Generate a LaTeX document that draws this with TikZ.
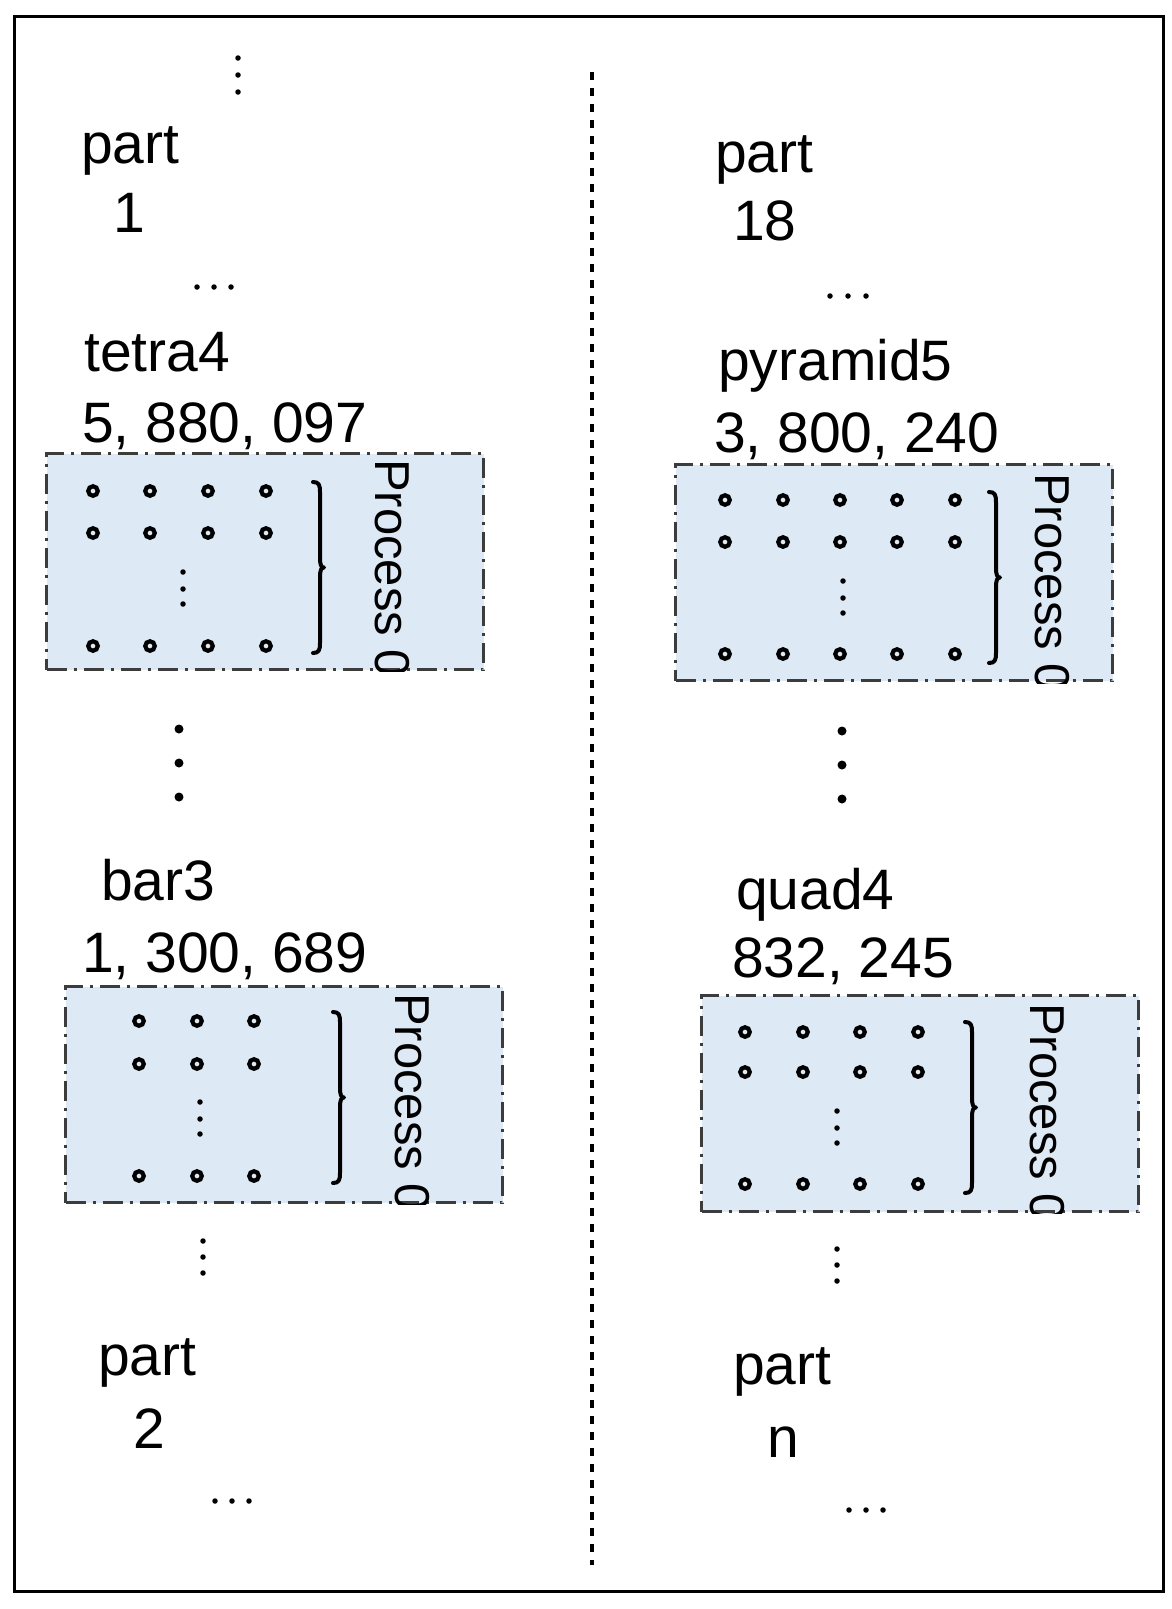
\documentclass[tikz,border=0pt]{standalone}
\usepackage{fontspec}
\setmainfont{Liberation Sans}
\definecolor{boxblue}{RGB}{222,233,246}
\definecolor{boxedge}{RGB}{60,60,60}
\newcommand\mybrace[3]{%
  \draw[brc] ({#1-7},#2) .. controls ({#1-1},#2) and (#1,{#2+3}) .. (#1,{#2+10})
    -- (#1,{(#2+#3)/2-10}) .. controls (#1,{(#2+#3)/2-3}) and ({#1+1},{(#2+#3)/2}) .. ({#1+4},{(#2+#3)/2})
    .. controls ({#1+1},{(#2+#3)/2}) and (#1,{(#2+#3)/2+3}) .. (#1,{(#2+#3)/2+10})
    -- (#1,{#3-10}) .. controls (#1,{#3-3}) and ({#1-1},#3) .. ({#1-7},#3);}
\begin{document}
\begin{tikzpicture}[x=1pt,y=-1pt,
  txt/.style={font=\fontsize{57}{60}\selectfont, inner sep=0pt, anchor=base west},
  proc/.style={font=\fontsize{49}{52}\selectfont, inner sep=0pt, anchor=base west, rotate=-90},
  pbox/.style={draw=boxedge, fill=boxblue, line width=3.4pt,
    dash pattern=on 20pt off 7pt on 3pt off 7pt, anchor=north west,
    minimum width=437pt, minimum height=216pt, inner sep=0pt},
  ring/.style={circle, draw, line width=4.2pt, minimum size=9.5pt, inner sep=0pt},
  sdot/.style={circle, fill, inner sep=0pt, minimum size=5.5pt},
  bdot/.style={circle, fill, inner sep=0pt, minimum size=9pt},
  brc/.style={line width=4pt, line cap=round, line join=round}]

\useasboundingbox (0,0) rectangle (1171,1609);
\fill[white] (0,0) rectangle (1171,1609);
\node[draw, line width=3.4pt, minimum width=1149pt, minimum height=1575pt,
  anchor=north west, inner sep=0pt] (frame) at (13,15) {};

% divider
\coordinate (dtop) at (592,72);
\coordinate (dbot) at (592,1565);
\draw[line width=4pt, dash pattern=on 8pt off 8pt] (dtop) -- (dbot);

% ---------- left column ----------
\foreach \yy [count=\k] in {58,75,92} \node[sdot] (ltv\k) at (238,\yy) {};
\node[txt] (lpart1) at (81,163) {part};
\node[txt] (lone) at (113,232) {1};
\foreach \xx [count=\k] in {197,214,231} \node[sdot] (lel1\k) at (\xx,287) {};
\node[txt] (tetra) at (84,371) {tetra4};
\node[txt] (tetran) at (82,442) {5, 880, 097};

\begin{scope}[shift={(45,452)}]
  \node[pbox] (box1) at (0,0) {};
  \foreach \dy [count=\r] in {39,81,194}
    \foreach \dx [count=\c] in {48,105,163,221}
      \node[ring] (b1r\r c\c) at (\dx,\dy) {};
  \foreach \dy [count=\k] in {120,137,152} \node[sdot] (b1v\k) at (138,\dy) {};
  \mybrace{275}{30}{201}
  \begin{scope}
    \clip (0,0) rectangle (437,219);
    \node[proc] (p1) at (330,7) {Process 0};
  \end{scope}
\end{scope}

\foreach \yy [count=\k] in {729,763,797} \node[bdot] (lbd\k) at (179,\yy) {};
\node[txt] (bar) at (101,900) {bar3};
\node[txt] (barn) at (82,972) {1, 300, 689};

\begin{scope}[shift={(64,985)}]
  \node[pbox] (box2) at (0,0) {};
  \foreach \dy [count=\r] in {36,79,191}
    \foreach \dx [count=\c] in {75,133,190}
      \node[ring] (b2r\r c\c) at (\dx,\dy) {};
  \foreach \dy [count=\k] in {117,134,149} \node[sdot] (b2v\k) at (136,\dy) {};
  \mybrace{276}{27}{198}
  \begin{scope}
    \clip (0,0) rectangle (437,219);
    \node[proc] (p2) at (331,8) {Process 0};
  \end{scope}
\end{scope}

\foreach \yy [count=\k] in {1241,1257,1273} \node[sdot] (lbv\k) at (203,\yy) {};
\node[txt] (lpart2) at (98,1375) {part};
\node[txt] (ltwo) at (133,1448) {2};
\foreach \xx [count=\k] in {215,232,249} \node[sdot] (lel2\k) at (\xx,1501) {};

% ---------- right column ----------
\node[txt] (rpart1) at (715,172) {part};
\node[txt] (reight) at (733,240) {18};
\foreach \xx [count=\k] in {830,848,866} \node[sdot] (rel1\k) at (\xx,296) {};
\node[txt] (pyr) at (718,380) {pyramid5};
\node[txt] (pyrn) at (714,452) {3, 800, 240};

\begin{scope}[shift={(674,463)}]
  \node[pbox] (box3) at (0,0) {};
  \foreach \dy [count=\r] in {37,79,191}
    \foreach \dx [count=\c] in {51,109,166,223,281}
      \node[ring] (b3r\r c\c) at (\dx,\dy) {};
  \foreach \dy [count=\k] in {118,135,150} \node[sdot] (b3v\k) at (169,\dy) {};
  \mybrace{322}{29}{200}
  \begin{scope}
    \clip (0,0) rectangle (437,220);
    \node[proc] (p3) at (361,10) {Process 0};
  \end{scope}
\end{scope}

\foreach \yy [count=\k] in {731,765,799} \node[bdot] (rbd\k) at (842,\yy) {};
\node[txt] (quad) at (736,909) {quad4};
\node[txt] (quadn) at (732,977) {832, 245};

\begin{scope}[shift={(700,994)}]
  \node[pbox] (box4) at (0,0) {};
  \foreach \dy [count=\r] in {38,78,190}
    \foreach \dx [count=\c] in {45,103,160,218}
      \node[ring] (b4r\r c\c) at (\dx,\dy) {};
  \foreach \dy [count=\k] in {117,134,149} \node[sdot] (b4v\k) at (137,\dy) {};
  \mybrace{272}{28}{199}
  \begin{scope}
    \clip (0,0) rectangle (437,219);
    \node[proc] (p4) at (330,9) {Process 0};
  \end{scope}
\end{scope}

\foreach \yy [count=\k] in {1249,1265,1281} \node[sdot] (rbv\k) at (837,\yy) {};
\node[txt] (rpart2) at (733,1384) {part};
\node[txt] (rn) at (767,1457) {n};
\foreach \xx [count=\k] in {849,866,883} \node[sdot] (rel2\k) at (\xx,1510) {};
\end{tikzpicture}
\end{document}
